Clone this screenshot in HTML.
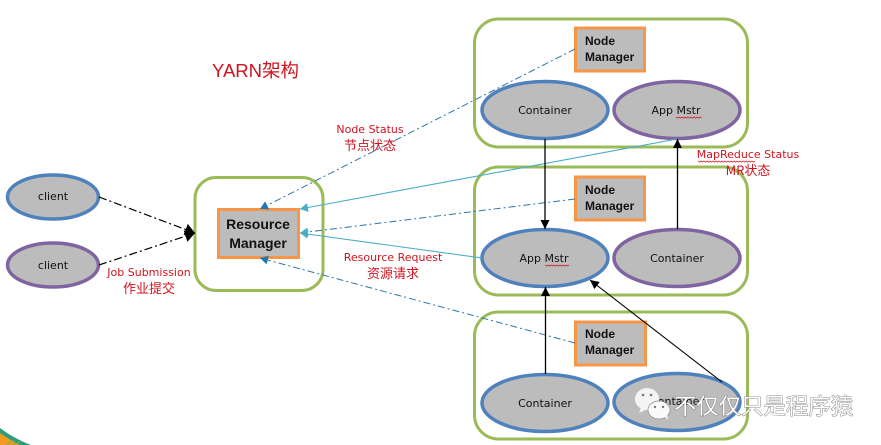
<!DOCTYPE html>
<html><head><meta charset="utf-8"><style>
html,body{margin:0;padding:0;background:#fff;width:881px;height:445px;overflow:hidden}
svg{display:block}
text{font-family:"Liberation Sans","DejaVu Sans","Noto Sans CJK SC",sans-serif}
.t{font-family:"DejaVu Sans","Noto Sans CJK SC",sans-serif;font-size:11px;fill:#111;text-anchor:middle}
.b{font-family:"Liberation Sans","Noto Sans CJK SC",sans-serif;font-size:12px;font-weight:bold;fill:#111}
.rm{font-family:"Liberation Sans",sans-serif;font-size:14px;font-weight:bold;fill:#111;text-anchor:middle}
.r{font-family:"DejaVu Sans","Noto Sans CJK SC",sans-serif;font-size:11px;fill:#d0131f;text-anchor:middle}
.c{font-family:"Noto Sans CJK SC",sans-serif;font-size:13px;fill:#d0131f;text-anchor:middle}
.o{fill:#fff;stroke:#9bbb59;stroke-width:3}
.n{fill:#bcbcbc;stroke:#f79646;stroke-width:3}
.e1{fill:#bcbcbc;stroke:#4f81bd;stroke-width:3.5}
.e2{fill:#bcbcbc;stroke:#8064a2;stroke-width:3.5}
.wave{fill:none;stroke:#d0131f;stroke-width:.7}
</style></head><body>
<svg width="881" height="445" viewBox="0 0 881 445" xmlns="http://www.w3.org/2000/svg">
<defs>
<marker id="blk" markerWidth="10" markerHeight="10" refX="9" refY="4.500" orient="auto" markerUnits="userSpaceOnUse"><path d="M0 0L9 4.500L0 9Z" fill="#000"/></marker>
<marker id="blkb" markerWidth="12" markerHeight="12" refX="10" refY="6" orient="auto" markerUnits="userSpaceOnUse"><path d="M0 0L10 6L0 12Z" fill="#000"/></marker>
<marker id="teal" markerWidth="10" markerHeight="10" refX="8" refY="4.500" orient="auto" markerUnits="userSpaceOnUse"><path d="M0 0L8 4.500L0 9Z" fill="#4bacc6"/></marker>
<marker id="blue" markerWidth="10" markerHeight="10" refX="8" refY="4.500" orient="auto" markerUnits="userSpaceOnUse"><path d="M0 0L8 4.500L0 9Z" fill="#1f78b4"/></marker>
</defs>

<!-- outer boxes -->
<rect class="o" x="195" y="177.500" width="128" height="113" rx="21"/>
<rect class="o" x="474.500" y="19" width="273" height="128" rx="24"/>
<rect class="o" x="474.500" y="167" width="273" height="128" rx="24"/>
<rect class="o" x="474.500" y="312" width="273" height="127" rx="24"/>

<!-- title -->
<text x="212" y="77" fill="#d0131f" style="font-size:18.500px;font-family:'Liberation Sans','Noto Sans CJK SC',sans-serif">YARN架构</text>

<!-- clients -->
<ellipse class="e1" cx="53" cy="197" rx="45.500" ry="22"/>
<ellipse class="e2" cx="53" cy="265" rx="45.500" ry="22"/>
<text class="t" x="53" y="200">client</text>
<text class="t" x="53" y="269">client</text>

<!-- resource manager -->
<rect class="n" x="218.500" y="209.500" width="80" height="48"/>
<text class="rm" x="258" y="229">Resource</text>
<text class="rm" x="258" y="248">Manager</text>

<!-- node managers -->
<rect class="n" x="575.500" y="28" width="69" height="43"/>
<text class="b" x="585" y="45">Node</text><text class="b" x="585" y="61">Manager</text>
<rect class="n" x="575.500" y="177" width="69" height="43"/>
<text class="b" x="585" y="194">Node</text><text class="b" x="585" y="210">Manager</text>
<rect class="n" x="575.500" y="322" width="70" height="43"/>
<text class="b" x="585" y="338">Node</text><text class="b" x="585" y="354">Manager</text>

<!-- ellipses -->
<ellipse class="e1" cx="545" cy="110" rx="63" ry="28.500"/>
<ellipse class="e2" cx="677" cy="110" rx="63" ry="28.500"/>
<ellipse class="e1" cx="545" cy="258" rx="63" ry="28.500"/>
<ellipse class="e2" cx="677" cy="258" rx="63" ry="28.500"/>
<ellipse class="e1" cx="545" cy="403" rx="63" ry="28.500"/>
<ellipse class="e1" cx="677" cy="402" rx="63" ry="28.500"/>
<text class="t" x="545" y="114">Container</text>
<text class="t" x="676" y="114">App Mstr</text>
<text class="t" x="544" y="262">App Mstr</text>
<text class="t" x="677" y="262">Container</text>
<text class="t" x="545" y="407">Container</text>
<text class="t" x="677" y="405">Container</text>
<path class="wave" d="M676 117l1.500 1.200 1.500-1.200 1.500 1.200 1.500-1.200 1.500 1.200 1.500-1.200 1.500 1.200 1.500-1.200 1.500 1.200 1.500-1.200 1.500 1.200 1.500-1.200 1.500 1.200 1.500-1.200 1.500 1.200 1.500-1.200 1.500 1.200"/>
<path class="wave" d="M545 265l1.500 1.200 1.500-1.200 1.500 1.200 1.500-1.200 1.500 1.200 1.500-1.200 1.500 1.200 1.500-1.200 1.500 1.200 1.500-1.200 1.500 1.200 1.500-1.200 1.500 1.200 1.500-1.200 1.500 1.200 1.500-1.200"/>

<!-- black dash-dot -->
<path d="M99 197L195 233" fill="none" stroke="#000" stroke-width="1.200" stroke-dasharray="8 3 2 3" marker-end="url(#blkb)"/>
<path d="M99 265L195 233" fill="none" stroke="#000" stroke-width="1.200" stroke-dasharray="8 3 2 3" marker-end="url(#blkb)"/>

<!-- blue dash-dot -->
<path d="M575 49L260 209" fill="none" stroke="#2e75a8" stroke-width="1" stroke-dasharray="7 3 2 3" marker-end="url(#blue)"/>
<path d="M575 199L300 233" fill="none" stroke="#2e75a8" stroke-width="1" stroke-dasharray="7 3 2 3" marker-end="url(#teal)"/>
<path d="M575 343L260 258" fill="none" stroke="#2e75a8" stroke-width="1" stroke-dasharray="7 3 2 3" marker-end="url(#blue)"/>

<!-- teal solid -->
<path d="M677 139L300 209" fill="none" stroke="#4bacc6" stroke-width="1.100" marker-end="url(#teal)"/>
<path d="M482 258L300 233" fill="none" stroke="#4bacc6" stroke-width="1.100" marker-end="url(#teal)"/>

<!-- black solid -->
<path d="M545 139V229" fill="none" stroke="#000" stroke-width="1.300" marker-end="url(#blk)"/>
<path d="M677.500 229V139" fill="none" stroke="#000" stroke-width="1.300" marker-end="url(#blk)"/>
<path d="M545.500 374V287" fill="none" stroke="#000" stroke-width="1.300" marker-end="url(#blk)"/>
<path d="M722 382L590 280" fill="none" stroke="#000" stroke-width="1.100" marker-end="url(#blk)"/>

<!-- labels -->
<text class="r" x="370" y="133">Node Status</text>
<text class="c" x="370" y="150">节点状态</text>
<text class="r" x="149" y="276">Job Submission</text>
<text class="c" x="149" y="293">作业提交</text>
<text class="r" x="393" y="261">Resource Request</text>
<text class="c" x="393" y="278">资源请求</text>
<text class="r" x="748" y="158">MapReduce Status</text>
<text class="c" x="748" y="175">MR状态</text>
<path class="wave" d="M698 161l1.500 1.200 1.500-1.200 1.500 1.200 1.500-1.200 1.500 1.200 1.500-1.200 1.500 1.200 1.500-1.200 1.500 1.200 1.500-1.200 1.500 1.200 1.500-1.200 1.500 1.200 1.500-1.200 1.500 1.200 1.500-1.200 1.500 1.200 1.500-1.200 1.500 1.200 1.500-1.200 1.500 1.200 1.500-1.200 1.500 1.200 1.500-1.200 1.500 1.200 1.500-1.200 1.500 1.200 1.500-1.200 1.500 1.200 1.500-1.200 1.500 1.200 1.500-1.200 1.500 1.200 1.500-1.200 1.500 1.200 1.500-1.200 1.500 1.200 1.500-1.200"/>

<!-- corner graphic -->
<path d="M0 428C8 434 18 440 31 445H0Z" fill="#2a9d7c"/>
<path d="M0 433C6 437 12 441 20 445H0Z" fill="#f39a21"/>
<path d="M6 445L14 440M12 445L20 442" stroke="#7fae4e" stroke-width="1" fill="none"/>

<!-- watermark -->
<g>
<ellipse cx="647" cy="399" rx="12" ry="11" fill="#f4f4f4"/>
<path d="M641 407l-2 6 8-4Z" fill="#f4f4f4"/>
<ellipse cx="659" cy="410" rx="11" ry="9" fill="#fafafa" stroke="#8a8a8a" stroke-width=".7"/>
<path d="M664 416l4 4-1-6Z" fill="#fafafa"/>
<circle cx="643" cy="395" r="1.300" fill="#777"/><circle cx="651" cy="395" r="1.300" fill="#777"/>
<circle cx="655" cy="407" r="1.200" fill="#777"/><circle cx="663" cy="407" r="1.200" fill="#777"/>
<text x="674" y="414" fill="#fff" stroke="#666" stroke-width=".8" paint-order="stroke" style="font-size:22.400px;font-family:'Noto Sans CJK SC',sans-serif">不仅仅只是程序猿</text>
</g>
</svg>
</body></html>
